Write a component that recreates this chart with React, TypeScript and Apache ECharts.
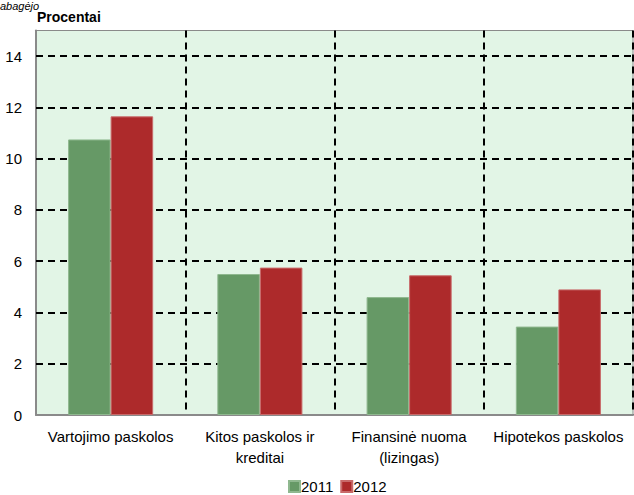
import React, { useEffect, useRef } from "react";
import * as echarts from "echarts";

const categories = [
  "Vartojimo paskolos",
  "Kitos paskolos ir\nkreditai",
  "Finansinė nuoma\n(lizingas)",
  "Hipotekos paskolos",
];
const series2011 = [10.75, 5.5, 4.6, 3.45];
const series2012 = [11.65, 5.75, 5.45, 4.9];
const gridValues = [2, 4, 6, 8, 10, 12, 14];

export default function App() {
  const ref = useRef<HTMLDivElement>(null);
  useEffect(() => {
    const chart = echarts.init(ref.current!, null, { renderer: "svg" });
    const font = "Liberation Sans, Arial, sans-serif";
    chart.setOption({
      animation: false,
      backgroundColor: "#ffffff",
      textStyle: { fontFamily: font },
      graphic: [
        {
          type: "text",
          left: 0,
          top: 0,
          style: { text: "abagėjo", font: "italic 11px Liberation Sans, Arial, sans-serif", fill: "#000" },
        },
        {
          type: "text",
          left: 37,
          top: 10,
          style: { text: "Procentai", font: "bold 14px Liberation Sans, Arial, sans-serif", fill: "#000" },
        },
      ],
      grid: {
        left: 36,
        right: 1,
        top: 30.5,
        bottom: 80,
        show: true,
        backgroundColor: "#e2f5e6",
        borderColor: "#8a8a8a",
        borderWidth: 1,
      },
      legend: {
        bottom: -4,
        left: 283,
        itemWidth: 11,
        itemHeight: 11,
        itemGap: 7,
        icon: "rect",
        textStyle: { fontSize: 15, color: "#000", fontFamily: font, padding: [0, 0, 0, -4] },
        data: ["2011", "2012"],
      },
      xAxis: {
        type: "category",
        data: categories,
        axisLine: { show: true, lineStyle: { color: "#8a8a8a", width: 2 } },
        axisTick: { show: false },
        axisLabel: { interval: 0, fontSize: 15, color: "#000", lineHeight: 21, margin: 11, fontFamily: font },
        splitLine: {
          show: true,
          interval: 0,
          lineStyle: { color: "#000", type: [7, 5], width: 2 },
        },
      },
      yAxis: {
        type: "value",
        min: 0,
        max: 15,
        interval: 1,
        axisLine: { show: true, lineStyle: { color: "#8a8a8a", width: 2 } },
        axisTick: { show: false },
        axisLabel: {
          fontSize: 15,
          color: "#000",
          margin: 14,
          fontFamily: font,
          formatter: (v: number) => (v % 2 === 0 && v <= 14 ? String(v) : ""),
        },
        splitLine: { show: false },
      },
      series: [
        {
          name: "2011",
          type: "bar",
          data: series2011,
          barGap: "0%",
          barCategoryGap: "43%",
          itemStyle: { color: "#669966", borderColor: "#8fb88f", borderWidth: 1 },
          markLine: {
            silent: true,
            symbol: "none",
            label: { show: false },
            lineStyle: { color: "#000", type: [7, 5], width: 2 },
            data: gridValues.map((v) => ({ yAxis: v })),
            z: 1,
          },
          z: 3,
        },
        {
          name: "2012",
          type: "bar",
          data: series2012,
          itemStyle: { color: "#ad2a2b", borderColor: "#c86a6a", borderWidth: 1 },
          z: 3,
        },
      ],
    });
    return () => chart.dispose();
  }, []);
  return <div ref={ref} style={{ width: 634, height: 495, position: "absolute", left: 0, top: 0 }} />;
}
